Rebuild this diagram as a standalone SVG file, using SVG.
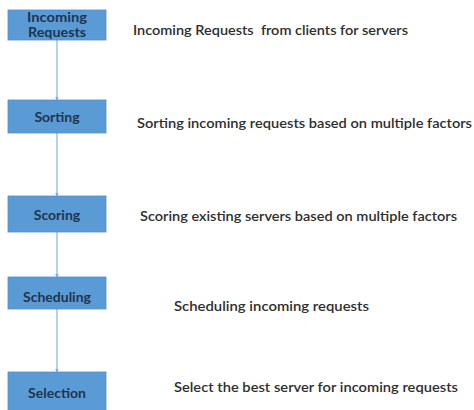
<svg xmlns="http://www.w3.org/2000/svg" width="474" height="410" viewBox="0 0 474 410">
  <defs>
    <marker id="arrow" viewBox="0 0 6 6" refX="5" refY="3" markerWidth="4" markerHeight="4" orient="auto" markerUnits="userSpaceOnUse">
      <path d="M0,0 L6,3 L0,6 Z" fill="#7fb0de"/>
    </marker>
    <style>
      .box { fill: #5b9bd5; stroke: #4f8fc9; stroke-width: 0.8; }
      .boxtext { font-family: Lato, "Liberation Sans", sans-serif; font-size: 14px; font-weight: bold; fill: #1e3550; text-anchor: middle; }
      .small { font-size: 12.5px; }
      .desc { font-family: Lato, "Liberation Sans", sans-serif; font-size: 13px; font-weight: 600; fill: #2e2e2e; }
      .link { stroke: #9cc3e6; stroke-width: 1.5; fill: none; marker-end: url(#arrow); }
    </style>
  </defs>
  <rect width="474" height="410" fill="#ffffff"/>

  <!-- connectors between process steps -->
  <g id="connectors">
    <line class="link" x1="57" y1="40" x2="57" y2="100"/>
    <line class="link" x1="57" y1="133" x2="57" y2="196"/>
    <line class="link" x1="57" y1="232" x2="57" y2="277"/>
    <line class="link" x1="57" y1="309" x2="57" y2="372"/>
  </g>

  <g id="incoming-requests">
    <rect class="box" x="8" y="10" width="98" height="30"/>
    <text class="boxtext small" x="57" y="22" textLength="60" lengthAdjust="spacingAndGlyphs">Incoming</text>
    <text class="boxtext small" x="57" y="37" textLength="58" lengthAdjust="spacingAndGlyphs">Requests</text>
  </g>
  <g id="sorting">
    <rect class="box" x="8" y="100" width="98" height="33"/>
    <text class="boxtext" x="57" y="121.5">Sorting</text>
  </g>
  <g id="scoring">
    <rect class="box" x="8" y="196" width="98" height="36"/>
    <text class="boxtext" x="57" y="219.5">Scoring</text>
  </g>
  <g id="scheduling">
    <rect class="box" x="8" y="277" width="98" height="32"/>
    <text class="boxtext" x="57" y="301.5">Scheduling</text>
  </g>
  <g id="selection">
    <rect class="box" x="8" y="372" width="98" height="40"/>
    <text class="boxtext" x="57" y="397.5">Selection</text>
  </g>

  <!-- step descriptions -->
  <g id="descriptions">
    <text class="desc" x="133" y="35" textLength="275" lengthAdjust="spacingAndGlyphs" xml:space="preserve">Incoming Requests  from clients for servers</text>
    <text class="desc" x="137" y="128" textLength="335" lengthAdjust="spacingAndGlyphs">Sorting incoming requests based on multiple factors</text>
    <text class="desc" x="140" y="221" textLength="317" lengthAdjust="spacingAndGlyphs">Scoring existing servers based on multiple factors</text>
    <text class="desc" x="174" y="311" textLength="195" lengthAdjust="spacingAndGlyphs">Scheduling incoming requests</text>
    <text class="desc" x="174" y="392" textLength="284" lengthAdjust="spacingAndGlyphs">Select the best server for incoming requests</text>
  </g>
</svg>
